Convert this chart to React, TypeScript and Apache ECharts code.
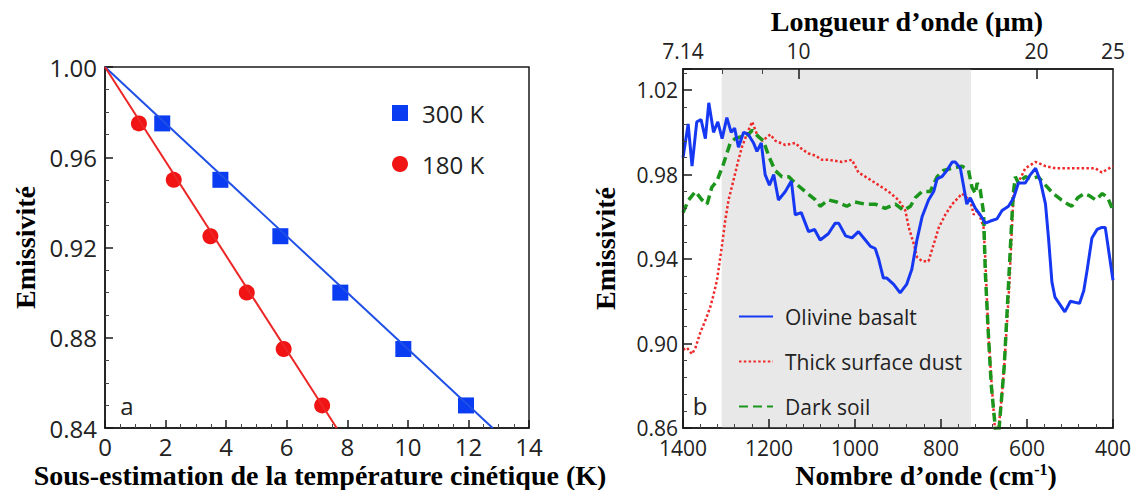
import React, { useEffect, useRef } from 'react';
import * as echarts from 'echarts';

// ---------- Panel a ----------
const underestK300 = [1.89, 3.81, 5.79, 7.77, 9.85, 11.92];
const emissivity300 = [0.975, 0.95, 0.925, 0.9, 0.875, 0.85];
const underestK180 = [1.12, 2.27, 3.48, 4.68, 5.9, 7.17];
const emissivity180 = [0.975, 0.95, 0.925, 0.9, 0.875, 0.85];
const fit300 = [[0, 1.0], [12.8, 0.84]];
const fit180 = [[0, 1.0], [7.65, 0.84]];

// ---------- Panel b ----------
const olivineWn = [1400, 1388, 1379, 1368, 1358, 1348, 1340, 1329, 1319, 1309, 1298, 1288, 1280, 1271, 1259, 1248, 1236, 1228, 1218, 1209, 1199, 1189, 1178, 1162, 1148, 1139, 1125, 1108, 1094, 1081, 1062, 1046, 1038, 1022, 1007, 992, 976, 964, 953, 945, 934, 926, 910, 895, 880, 868, 856, 844, 829, 817, 809, 798, 786, 774, 767, 755, 747, 740, 732, 720, 709, 697, 685, 670, 658, 643, 631, 620, 604, 592, 580, 569, 557, 550, 542, 535, 512, 499, 478, 468, 460, 449, 437, 426, 418, 400];
const olivineEm = [0.988, 1.004, 0.984, 1.005, 1.006, 0.997, 1.014, 1.0, 1.005, 0.997, 1.007, 1.0, 1.002, 0.993, 1.0, 0.999, 0.995, 0.991, 0.995, 0.98, 0.975, 0.98, 0.968, 0.972, 0.977, 0.961, 0.962, 0.953, 0.954, 0.949, 0.952, 0.957, 0.957, 0.951, 0.95, 0.953, 0.949, 0.946, 0.945, 0.94, 0.931, 0.931, 0.928, 0.924, 0.928, 0.935, 0.949, 0.96, 0.968, 0.972, 0.978, 0.979, 0.982, 0.986, 0.986, 0.983, 0.974, 0.966, 0.969, 0.964, 0.961, 0.957, 0.958, 0.959, 0.963, 0.965, 0.969, 0.976, 0.976, 0.98, 0.983, 0.977, 0.966, 0.95, 0.929, 0.922, 0.915, 0.92, 0.919, 0.925, 0.935, 0.95, 0.954, 0.955, 0.955, 0.93];

const dustWn = [1400, 1391, 1379, 1371, 1360, 1348, 1337, 1329, 1321, 1309, 1302, 1294, 1283, 1271, 1263, 1248, 1239, 1228, 1215, 1197, 1185, 1162, 1139, 1123, 1108, 1092, 1077, 1062, 1030, 1007, 992, 968, 945, 922, 899, 883, 875, 863, 856, 844, 829, 817, 805, 790, 774, 751, 740, 732, 724, 716, 709, 701, 697, 690, 682, 671, 660, 653, 641, 634, 631, 623, 604, 580, 557, 534, 503, 472, 441, 426, 400];
const dustEm = [0.897, 0.898, 0.895, 0.898, 0.905, 0.911, 0.917, 0.923, 0.93, 0.947, 0.958, 0.968, 0.977, 0.987, 0.993, 1.001, 1.005, 0.999, 0.996, 0.999, 0.996, 0.994, 0.995, 0.992, 0.99, 0.989, 0.987, 0.987, 0.986, 0.987, 0.981, 0.978, 0.975, 0.972, 0.968, 0.963, 0.955, 0.947, 0.941, 0.939, 0.939, 0.947, 0.955, 0.961, 0.966, 0.971, 0.969, 0.968, 0.961, 0.963, 0.96, 0.955, 0.94, 0.905, 0.88, 0.85, 0.872, 0.889, 0.928, 0.96, 0.971, 0.975, 0.983, 0.986, 0.984, 0.983, 0.983, 0.983, 0.983, 0.981, 0.984];

const soilWn = [1400, 1387, 1371, 1356, 1344, 1333, 1321, 1306, 1290, 1279, 1263, 1248, 1239, 1225, 1213, 1201, 1186, 1170, 1154, 1139, 1116, 1092, 1081, 1062, 1042, 1019, 1000, 976, 953, 930, 906, 887, 871, 860, 844, 825, 809, 794, 774, 751, 736, 728, 720, 716, 709, 701, 697, 690, 683, 669, 653, 645, 637, 632, 627, 620, 604, 592, 574, 557, 539, 520, 505, 496, 482, 467, 455, 440, 425, 412, 400];
const soilEm = [0.962, 0.968, 0.972, 0.968, 0.966, 0.974, 0.977, 0.985, 0.995, 0.997, 0.998, 0.999, 1.001, 0.998, 0.996, 0.989, 0.982, 0.979, 0.979, 0.976, 0.972, 0.968, 0.965, 0.968, 0.967, 0.965, 0.967, 0.966, 0.966, 0.964, 0.966, 0.963, 0.965, 0.969, 0.972, 0.972, 0.979, 0.982, 0.983, 0.984, 0.982, 0.974, 0.971, 0.976, 0.973, 0.962, 0.934, 0.905, 0.88, 0.85, 0.889, 0.92, 0.952, 0.971, 0.979, 0.976, 0.979, 0.978, 0.979, 0.975, 0.971, 0.968, 0.966, 0.965, 0.969, 0.971, 0.97, 0.968, 0.971, 0.969, 0.963];

const shadedBand = [1310, 730];
const wavelengthLabels = [7.14, 10, 20, 25];
const wavelengthMajorTicks = [10, 20];
const wavelengthMinorTicks = [8, 9];

const SERIF = '"Liberation Serif", "Times New Roman", serif';
const SANS = '"Open Sans", "Noto Sans", sans-serif';
const BLUE_A = '#1f4fe6';
const RED_A = '#ec2626';
const BLUE_B = '#1638f2';
const RED_B = '#ee2a2a';
const GREEN_B = '#1c951c';
const AXIS = { color: '#1a1a1a', width: 1.5 };

const zip = (xs: number[], ys: number[]) => xs.map((x, i) => [x, ys[i]]);
const lg = (v: number) => Math.log10(v);

const titleStyle = { fontFamily: SERIF, fontWeight: 'bold' as const, fontSize: 28, color: '#000' };

function buildOption() {
  return {
    animation: false,
    backgroundColor: '#fff',
    textStyle: { fontFamily: SANS },
    grid: [
      { left: 105, top: 67, width: 424, height: 361, show: true, borderColor: '#1a1a1a', borderWidth: 1.5, containLabel: false, outerBoundsMode: 'none' },
      { left: 683, top: 69, width: 430, height: 359, show: true, borderColor: '#1a1a1a', borderWidth: 1.5, containLabel: false, outerBoundsMode: 'none' },
    ],
    xAxis: [
      {
        gridIndex: 0, type: 'value', position: 'bottom', min: 0, max: 14, interval: 2,
        axisLine: { show: true, lineStyle: AXIS },
        axisTick: { show: true, inside: true, length: 8, lineStyle: AXIS },
        minorTick: { show: true, splitNumber: 4, length: 4, lineStyle: { color: '#444', width: 1 } },
        splitLine: { show: false },
        axisLabel: { fontFamily: SANS, fontSize: 24, color: '#222', margin: 6 },
        name: 'Sous-estimation de la température cinétique (K)',
        nameLocation: 'middle', nameGap: 33, nameMoveOverlap: false,
        nameTextStyle: { ...titleStyle, lineHeight: 28, padding: [0, 0, 0, 6] },
      },
      {
        gridIndex: 1, type: 'value', position: 'bottom', min: 400, max: 1400, inverse: true, interval: 200, z: 10,
        axisLine: { show: true, lineStyle: AXIS },
        axisTick: { show: true, inside: true, length: 9, lineStyle: AXIS },
        minorTick: { show: true, splitNumber: 5, length: 4, lineStyle: { color: '#444', width: 1 } },
        splitLine: { show: false },
        axisLabel: { fontFamily: SANS, fontSize: 21, color: '#222', margin: 9, formatter: (v: number) => String(v) },
        name: 'Nombre d’onde (cm{sup|-1})',
        nameLocation: 'middle', nameGap: 33, nameMoveOverlap: false,
        nameTextStyle: { ...titleStyle, lineHeight: 28, padding: [0, 0, 0, 56], rich: { sup: { fontFamily: SERIF, fontWeight: 'bold', fontSize: 16, lineHeight: 28, verticalAlign: 'top', color: '#000' } } },
      },
      {
        gridIndex: 1, type: 'value', position: 'top', min: lg(7.14), max: lg(25), z: 10,
        axisLine: { show: true, lineStyle: AXIS },
        axisTick: { show: true, inside: true, length: 10, lineStyle: AXIS, customValues: wavelengthMajorTicks.map(lg) },
        splitLine: { show: false },
        axisLabel: {
          fontFamily: SANS, fontSize: 21, color: '#222', margin: 8,
          customValues: wavelengthLabels.map(lg),
          formatter: (v: number) => {
            const w = wavelengthLabels.find((x) => Math.abs(lg(x) - v) < 1e-6);
            return w === undefined ? '' : String(w);
          },
        },
        name: 'Longueur d’onde (µm)', nameLocation: 'middle', nameGap: 32,
        nameTextStyle: { ...titleStyle, padding: [0, 0, 0, 18] },
      },
      {
        gridIndex: 1, type: 'value', position: 'top', min: lg(7.14), max: lg(25), z: 10,
        axisLine: { show: false },
        axisTick: { show: true, inside: true, length: 5, lineStyle: { color: '#444', width: 1 }, customValues: wavelengthMinorTicks.map(lg) },
        splitLine: { show: false },
        axisLabel: { show: false },
      },
    ],
    yAxis: [
      {
        gridIndex: 0, type: 'value', min: 0.84, max: 1.0, interval: 0.04,
        axisLine: { show: true, lineStyle: AXIS },
        axisTick: { show: true, inside: true, length: 8, lineStyle: AXIS },
        minorTick: { show: true, splitNumber: 4, length: 4, lineStyle: { color: '#444', width: 1 } },
        splitLine: { show: false },
        axisLabel: { fontFamily: SANS, fontSize: 24, color: '#222', margin: 8, formatter: (v: number) => v.toFixed(2) },
        name: 'Emissivité', nameLocation: 'middle', nameRotate: 90, nameGap: 66, nameTextStyle: titleStyle,
      },
      {
        gridIndex: 1, type: 'value', min: 0.86, max: 1.03, interval: 0.04, z: 10,
        axisLine: { show: true, lineStyle: AXIS },
        axisTick: { show: true, inside: true, length: 9, lineStyle: AXIS },
        minorTick: { show: true, splitNumber: 5, length: 4, lineStyle: { color: '#444', width: 1 } },
        splitLine: { show: false },
        axisLabel: { fontFamily: SANS, fontSize: 21, color: '#222', margin: 5, showMaxLabel: false, formatter: (v: number) => v.toFixed(2) },
        name: 'Emissivité', nameLocation: 'middle', nameRotate: 90, nameGap: 64, nameTextStyle: titleStyle,
      },
    ],
    legend: [
      {
        data: ['300 K', '180 K'], orient: 'vertical', left: 387, top: 96, selectedMode: false,
        itemWidth: 16, itemHeight: 16, itemGap: 27,
        textStyle: { fontFamily: SANS, fontSize: 24, lineHeight: 24, color: '#222', padding: [0, 0, 0, 9] },
      },
      {
        data: ['Olivine basalt', 'Thick surface dust', 'Dark soil'], orient: 'vertical', left: 733, top: 301, selectedMode: false,
        itemWidth: 34, itemHeight: 14, itemGap: 24,
        itemStyle: { opacity: 0 },
        textStyle: { fontFamily: SANS, fontSize: 21, lineHeight: 21, color: '#222', padding: [0, 0, 0, 7] },
      },
    ],
    graphic: [
      { type: 'text', x: 127, y: 405, style: { text: 'a', font: `24px ${SANS}`, fill: '#222', align: 'center', verticalAlign: 'middle' } },
      { type: 'text', x: 700, y: 405, style: { text: 'b', font: `24px ${SANS}`, fill: '#222', align: 'center', verticalAlign: 'middle' } },
    ],
    series: [
      { type: 'line', name: 'fit300', xAxisIndex: 0, yAxisIndex: 0, data: fit300, symbol: 'none', lineStyle: { color: BLUE_A, width: 2 }, silent: true },
      { type: 'line', name: 'fit180', xAxisIndex: 0, yAxisIndex: 0, data: fit180, symbol: 'none', lineStyle: { color: RED_A, width: 2 }, silent: true },
      { type: 'scatter', name: '300 K', xAxisIndex: 0, yAxisIndex: 0, data: zip(underestK300, emissivity300), symbol: 'rect', symbolSize: 16, itemStyle: { color: '#0a3cf2', opacity: 1 } },
      { type: 'scatter', name: '180 K', xAxisIndex: 0, yAxisIndex: 0, data: zip(underestK180, emissivity180), symbol: 'circle', symbolSize: 16, itemStyle: { color: '#f01414', opacity: 1 } },
      {
        type: 'line', name: 'Thick surface dust', xAxisIndex: 1, yAxisIndex: 1, data: zip(dustWn, dustEm), symbol: 'none',
        lineStyle: { color: RED_B, width: 2.5, type: [2.5, 2.3] }, itemStyle: { color: RED_B },
        markArea: { silent: true, itemStyle: { color: '#e8e8e8' }, data: [[{ xAxis: shadedBand[0] }, { xAxis: shadedBand[1] }]] },
      },
      {
        type: 'line', name: 'Dark soil', xAxisIndex: 1, yAxisIndex: 1, data: zip(soilWn, soilEm), symbol: 'none',
        lineStyle: { color: GREEN_B, width: 3.5, type: [9, 5] }, itemStyle: { color: GREEN_B },
      },
      {
        type: 'line', name: 'Olivine basalt', xAxisIndex: 1, yAxisIndex: 1, data: zip(olivineWn, olivineEm), symbol: 'none',
        lineStyle: { color: BLUE_B, width: 3 }, itemStyle: { color: BLUE_B },
      },
    ],
  };
}

export default function App() {
  const ref = useRef<HTMLDivElement>(null);
  useEffect(() => {
    if (!ref.current) return;
    const chart = echarts.init(ref.current, null, { renderer: 'svg' });
    chart.setOption(buildOption() as any);
    return () => chart.dispose();
  }, []);
  return <div ref={ref} style={{ position: 'fixed', left: 0, top: 0, width: 1134, height: 490, background: '#fff' }} />;
}
